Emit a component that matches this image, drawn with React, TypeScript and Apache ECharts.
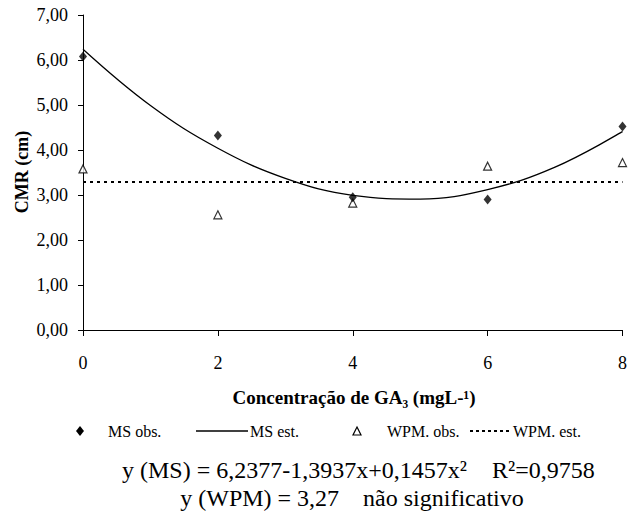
import React, { useEffect, useRef } from "react";
import * as echarts from "echarts";

const concentrations = [0, 2, 4, 6, 8];
const msObs = [6.08, 4.32, 2.95, 2.9, 4.52];
const wpmObs = [3.58, 2.56, 2.82, 3.64, 3.72];
const msEstX = [0, 1, 2, 3, 4, 5, 6, 7, 8];
const msEstY = [6.24, 4.99, 4.04, 3.37, 2.99, 2.91, 3.12, 3.62, 4.41];
const wpmEstX = [0, 8];
const wpmEstY = [3.29, 3.29];
const legendLabels = ["MS obs.", "MS est.", "WPM. obs.", "WPM. est."];
const yTitle = "CMR (cm)";
const xTitle = "Concentração de GA₃ (mgL-¹)";
const eq1 = "y (MS) = 6,2377-1,3937x+0,1457x²";
const eq1r = "R²=0,9758";
const eq2 = "y (WPM) = 3,27    não significativo";

const FONT = "Liberation Serif";

export default function App() {
  const ref = useRef<HTMLDivElement>(null);
  useEffect(() => {
    if (!ref.current) return;
    const chart = echarts.init(ref.current, undefined, { renderer: "svg" });
    const legendY = 431;
    const legendText = (x: number, text: string) => ({
      type: "text",
      x,
      y: legendY,
      style: { text, fontFamily: FONT, fontSize: 16, fill: "#000", verticalAlign: "middle" },
    });
    chart.setOption({
      animation: false,
      backgroundColor: "#fff",
      textStyle: { fontFamily: FONT },
      grid: { left: 83, right: 5, top: 15, bottom: 181, containLabel: false },
      xAxis: {
        type: "value",
        min: 0,
        max: 8,
        interval: 2,
        axisLine: { show: true, lineStyle: { color: "#000", width: 1 } },
        axisTick: { show: true, length: 6, lineStyle: { color: "#000" } },
        axisLabel: { color: "#000", fontFamily: FONT, fontSize: 18, margin: 24 },
        splitLine: { show: false },
      },
      yAxis: {
        type: "value",
        min: 0,
        max: 7,
        interval: 1,
        axisLine: { show: true, lineStyle: { color: "#000", width: 1 } },
        axisTick: { show: true, length: 5, lineStyle: { color: "#000" } },
        axisLabel: {
          color: "#000",
          fontFamily: FONT,
          fontSize: 18,
          margin: 15,
          formatter: (v: number) => v.toFixed(2).replace(".", ","),
        },
        splitLine: { show: false },
      },
      series: [
        {
          name: legendLabels[3],
          type: "line",
          data: wpmEstX.map((x, i) => [x, wpmEstY[i]]),
          showSymbol: false,
          lineStyle: { color: "#000", width: 2, type: [3, 4] },
          z: 1,
        },
        {
          name: legendLabels[1],
          type: "line",
          smooth: 0.4,
          data: msEstX.map((x, i) => [x, msEstY[i]]),
          showSymbol: false,
          lineStyle: { color: "#000", width: 1.3 },
          z: 2,
        },
        {
          name: legendLabels[2],
          type: "scatter",
          data: concentrations.map((x, i) => [x, wpmObs[i]]),
          symbol: "triangle",
          symbolSize: [8, 8],
          itemStyle: { color: "#fff", borderColor: "#000", borderWidth: 1.2 },
          z: 3,
        },
        {
          name: legendLabels[0],
          type: "scatter",
          data: concentrations.map((x, i) => [x, msObs[i]]),
          symbol: "diamond",
          symbolSize: [8, 10],
          itemStyle: { color: "#000" },
          z: 4,
        },
      ],
      graphic: [
        {
          type: "text",
          x: 22,
          y: 172,
          rotation: Math.PI / 2,
          style: {
            text: yTitle,
            fontFamily: FONT,
            fontWeight: "bold",
            fontSize: 18,
            fill: "#000",
            align: "center",
            verticalAlign: "middle",
          },
        },
        {
          type: "text",
          x: 354,
          y: 397,
          style: {
            text: xTitle,
            fontFamily: FONT,
            fontWeight: "bold",
            fontSize: 19,
            fill: "#000",
            align: "center",
            verticalAlign: "middle",
          },
        },
        {
          type: "polygon",
          shape: { points: [[80, legendY - 5], [84, legendY], [80, legendY + 5], [76, legendY]] },
          style: { fill: "#000" },
        },
        legendText(108, legendLabels[0]),
        {
          type: "line",
          shape: { x1: 196, y1: legendY, x2: 248, y2: legendY },
          style: { stroke: "#000", lineWidth: 1.3 },
        },
        legendText(250, legendLabels[1]),
        {
          type: "polygon",
          shape: { points: [[357, legendY - 4], [361, legendY + 4], [353, legendY + 4]] },
          style: { fill: "#fff", stroke: "#000", lineWidth: 1.2 },
        },
        legendText(387, legendLabels[2]),
        {
          type: "line",
          shape: { x1: 470, y1: legendY, x2: 510, y2: legendY },
          style: { stroke: "#000", lineWidth: 2, lineDash: [3, 3] },
        },
        legendText(513, legendLabels[3]),
        {
          type: "text",
          x: 122,
          y: 470,
          style: { text: eq1, fontFamily: FONT, fontSize: 24, fill: "#000", verticalAlign: "middle" },
        },
        {
          type: "text",
          x: 492,
          y: 470,
          style: { text: eq1r, fontFamily: FONT, fontSize: 24, fill: "#000", verticalAlign: "middle" },
        },
        {
          type: "text",
          x: 352,
          y: 498,
          style: { text: eq2, fontFamily: FONT, fontSize: 24, fill: "#000", align: "center", verticalAlign: "middle" },
        },
      ],
    });
    return () => chart.dispose();
  }, []);
  return (
    <div
      ref={ref}
      style={{ position: "fixed", left: 0, top: 0, width: 630, height: 511, background: "#fff" }}
    />
  );
}
